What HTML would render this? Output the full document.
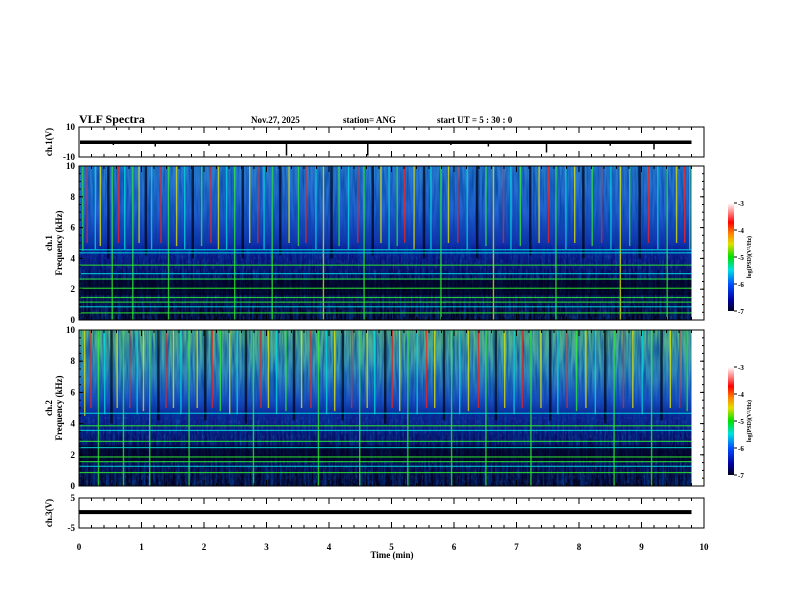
<!DOCTYPE html>
<html><head><meta charset="utf-8">
<style>
html,body{margin:0;padding:0;background:#fff;}
svg{display:block;font-family:"Liberation Serif",serif;font-weight:bold;}
</style></head>
<body>
<svg id="fig" width="792" height="612" viewBox="0 0 792 612" xmlns="http://www.w3.org/2000/svg">
<defs>
<linearGradient id="cbar" x1="0" y1="1" x2="0" y2="0">
<stop offset="0" stop-color="#000020"/><stop offset="0.1" stop-color="#0000a0"/>
<stop offset="0.25" stop-color="#0050ff"/><stop offset="0.38" stop-color="#00e0e0"/>
<stop offset="0.5" stop-color="#00e000"/><stop offset="0.62" stop-color="#e0e000"/>
<stop offset="0.72" stop-color="#ff8000"/><stop offset="0.82" stop-color="#ff0000"/>
<stop offset="0.92" stop-color="#ff9090"/><stop offset="1" stop-color="#ffffff"/>
</linearGradient>
<linearGradient id="bg1" x1="0" y1="0" x2="0" y2="1">
<stop offset="0" stop-color="#2a80d0"/><stop offset="0.3" stop-color="#2060d0"/>
<stop offset="0.5" stop-color="#1230b0"/><stop offset="0.55" stop-color="#0a1890"/>
<stop offset="0.7" stop-color="#040650"/><stop offset="1" stop-color="#010120"/>
</linearGradient>
<linearGradient id="bg2" x1="0" y1="0" x2="0" y2="1">
<stop offset="0" stop-color="#58b880"/><stop offset="0.25" stop-color="#3898b8"/>
<stop offset="0.45" stop-color="#1a50c8"/><stop offset="0.55" stop-color="#0c2090"/>
<stop offset="0.75" stop-color="#030650"/><stop offset="1" stop-color="#010120"/>
</linearGradient>
<filter id="noise" x="0" y="0" width="100%" height="100%">
<feTurbulence type="fractalNoise" baseFrequency="0.45 0.03" numOctaves="2" seed="3"/>
<feColorMatrix type="matrix" values="0 0 0 0 0  0 0 0 0 0.05  0 0 0 0 0.35  1.6 0 0 0 -0.55"/>
</filter>
<filter id="noise2" x="0" y="0" width="100%" height="100%">
<feTurbulence type="fractalNoise" baseFrequency="0.6 0.2" numOctaves="2" seed="7"/>
<feColorMatrix type="matrix" values="0 0 0 0 0.1  0 0 0 0 0.3  0 0 0 0 1  0 1.8 0 0 -0.9"/>
</filter>
</defs>
<g id="root"></g>
</svg>
<script>
// ---- data ----
const timeTicks = [0,1,2,3,4,5,6,7,8,9,10];
const freqTicks = [0,2,4,6,8,10];
const cbarTicks = [-3,-4,-5,-6,-7];
const bands1 = [4.6,4.4,3.6,3.05,2.7,2.1,1.5,1.2,0.9,0.5];
const bandCol1 = [0,0,1,0,1,1,1,1,0,1];
const bands2 = [4.7,3.9,3.6,2.9,2.5,1.9,1.6,1.3,0.9];
const bandCol2 = [0,1,0,1,0,1,1,0,1];
const str1T = [0.05,0.12,0.25,0.33,0.45,0.52,0.62,0.72,0.85,0.95,1.05,1.15,1.3,1.42,1.55,1.68,1.8,1.95,2.1,2.22,2.35,2.48,2.6,2.72,2.85,2.95,3.08,3.2,3.35,3.5,3.62,3.78,3.9,4.02,4.15,4.3,4.45,4.55,4.68,4.82,4.95,5.08,5.2,5.35,5.5,5.62,5.78,5.9,6.05,6.2,6.35,6.5,6.62,6.78,6.9,7.05,7.2,7.35,7.5,7.62,7.78,7.92,8.05,8.2,8.35,8.5,8.65,8.8,8.95,9.1,9.25,9.4,9.55,9.68,9.76];
const str1C = [1,3,0,2,4,1,3,0,1,2,4,0,3,1,2,0,4,1,3,2,0,1,4,2,3,0,1,4,2,1,3,0,2,4,1,0,3,1,4,2,0,1,3,2,4,0,1,2,3,0,4,1,2,3,0,1,4,2,3,1,0,2,4,1,3,0,2,1,4,3,0,1,2,3,1];
const str1L = [4.5,5,4.6,4.8,4,0,5,4.6,0,5,4.2,4.6,5,0,4.8,4.6,4,4.8,5,4.6,4.6,0,4,5,5,4.6,0,4.2,5,4.8,5,4.6,0,4,4.8,4.6,5,0,4.2,5,4.6,4.8,5,4.6,4,4.6,0,5,5,4.6,4,4.8,0,5,4.6,4.8,4.2,5,5,0,4.6,5,4,4.8,5,4.6,0,4.8,4,5,4.6,0,5,5,4.6];
const str2T = [0.08,0.18,0.3,0.4,0.5,0.6,0.7,0.8,0.92,1.02,1.12,1.25,1.38,1.5,1.62,1.75,1.88,2.0,2.12,2.25,2.4,2.52,2.65,2.78,2.9,3.02,3.15,3.3,3.42,3.55,3.7,3.82,3.95,4.08,4.2,4.35,4.48,4.6,4.72,4.88,5.0,5.12,5.25,5.4,5.55,5.68,5.82,5.95,6.08,6.22,6.38,6.5,6.65,6.8,6.95,7.08,7.22,7.38,7.52,7.65,7.8,7.95,8.1,8.25,8.4,8.55,8.7,8.85,9.0,9.15,9.3,9.45,9.6,9.72];
const str2C = [2,3,1,0,4,2,1,3,0,2,1,4,3,2,0,1,2,4,3,1,2,0,4,1,3,2,0,1,4,2,3,1,0,2,4,3,1,2,0,4,3,2,1,0,3,2,4,1,0,2,3,1,4,2,0,3,1,2,4,0,3,1,2,0,4,1,3,2,0,1,4,2,3,1];
const str2L = [4.5,5,0,4.6,4,5,0,5,4.6,4.8,0,4.2,5,5,4.6,0,5,4.2,5,4.8,4.6,4.6,4,0,5,5,4.6,4.8,4.2,5,5,0,4.6,4.8,4.2,5,0,5,4.6,4,5,4.8,0,4.6,5,5,4.2,0,4.6,4.8,5,0,4.2,5,4.6,5,0,5,4.2,4.6,5,4.8,5,4.6,4,0,5,5,4.6,0,4.2,5,5,4.8];
const ch1Base = 0;
const spikeT = [0.55,1.22,2.08,3.32,4.62,5.95,6.55,7.48,8.5,9.2];
const spikeV = [-2,-3,-2.5,-9,-9,-2,-3,-7,-2.5,-5];
const ch3Level = 0.3;
const colors = ['#00e0e0','#30f030','#e8e800','#ff2010','#000010'];

// ---- layout ----
const X0=79,X1=704;
const P = {
 ch1:{t:127,b:157,lo:-10,hi:10},
 s1:{t:166,b:320,lo:0,hi:10},
 s2:{t:330,b:486,lo:0,hi:10},
 ch3:{t:498,b:528,lo:-5,hi:5}
};
const xs=t=>X0+(t/10)*(X1-X0);
const ys=(p,v)=>P[p].b-(v-P[p].lo)/(P[p].hi-P[p].lo)*(P[p].b-P[p].t);
const NS='http://www.w3.org/2000/svg';
const root=document.getElementById('root');
function mk(tag,attrs,parent,txt){const e=document.createElementNS(NS,tag);for(const k in attrs)e.setAttribute(k,attrs[k]);if(txt!==undefined)e.textContent=txt;(parent||root).appendChild(e);return e;}

const hdr=[["VLF Spectra",79,123,12,'chart-title'],["Nov.27, 2025",251,123,9,'date-label'],["station= ANG",343,123,9,'station-label'],["start  UT =   5  : 30 : 0",437,123,9,'start-time-label']];
hdr.forEach(h=>{const e=mk('text',{x:h[1],y:h[2],'font-size':h[3],'xml:space':'preserve'},root,h[0]);

});

function spectro(p,bg,bands,bcol,T,C,L,name){
 const g=mk('g',{});
 
 
 const top=P[p].t,bot=P[p].b;
 const dataEnd=xs(9.8);
 mk('rect',{x:X0,y:top,width:dataEnd-X0,height:bot-top,fill:'url(#'+bg+')'},g);
 mk('rect',{x:X0,y:top,width:dataEnd-X0,height:bot-top,filter:'url(#noise)'},g);
 mk('rect',{x:X0,y:ys(p,4.4),width:dataEnd-X0,height:bot-ys(p,4.4),filter:'url(#noise2)',opacity:0.35},g);
 mk('rect',{x:X0,y:ys(p,2.6),width:dataEnd-X0,height:ys(p,1.6)-ys(p,2.6),fill:'#000010',opacity:0.6},g);
 for(let i=0;i<T.length;i++){
  const x=xs(T[i]);const yl=ys(p,L[i]);
  const r=mk('rect',{x:x,y:top,width:C[i]==4?2.5:1.4,height:yl-top,fill:colors[C[i]],opacity:C[i]==4?0.7:0.75},g);
  
  
 }
 for(let i=0;i<bands.length;i++){
  const y=ys(p,bands[i]);
  const r=mk('rect',{x:X0,y:y,width:dataEnd-X0,height:1.2,fill:colors[bcol[i]],opacity:0.8},g);
  
  
 }
 mk('rect',{x:dataEnd,y:top,width:X1-dataEnd,height:bot-top,fill:'#fff'},g);
}
spectro('s1','bg1',bands1,bandCol1,str1T,str1C,str1L,'spectrogram-ch1');
spectro('s2','bg2',bands2,bandCol2,str2T,str2C,str2L,'spectrogram-ch2');

{
 const y0=ys('ch1',ch1Base);
 const w=mk('rect',{x:X0+1,y:y0-1.5,width:xs(9.8)-X0-1,height:3.5,fill:'#000'});
 
 
 for(let i=0;i<spikeT.length;i++){
  const s=mk('line',{x1:xs(spikeT[i]),x2:xs(spikeT[i]),y1:y0,y2:ys('ch1',spikeV[i]),stroke:'#000','stroke-width':1.5});
  
  
 }
 const l3=mk('rect',{x:X0,y:ys('ch3',ch3Level)-2,width:xs(9.8)-X0,height:4,fill:'#000'});
 
 
}

function frame(p,name,yt){
 const top=P[p].t,bot=P[p].b;
 const f=mk('rect',{x:X0,y:top,width:X1-X0,height:bot-top,fill:'none',stroke:'#000','stroke-width':1});
 
 
 for(let t=0;t<=100;t+=2){const x=xs(t/10);const L=(t%10==0)?6:3;
  mk('line',{x1:x,x2:x,y1:top,y2:top+L,stroke:'#000'});mk('line',{x1:x,x2:x,y1:bot,y2:bot-L,stroke:'#000'});}
 yt.forEach(v=>{const y=ys(p,v);mk('line',{x1:X0,x2:X0+4,y1:y,y2:y,stroke:'#000'});mk('line',{x1:X1,x2:X1-4,y1:y,y2:y,stroke:'#000'});
  const tl=mk('text',{x:X0-4,y:y+3,'font-size':9,'text-anchor':'end'},root,String(v));
  
  });
}
frame('ch1','ch1',[10,-10]);
frame('s1','spectrogram-ch1',freqTicks);
frame('s2','spectrogram-ch2',freqTicks);
frame('ch3','ch3',[5,-5]);
['s1','s2'].forEach(p=>{for(let v=0;v<=10;v+=0.5){const y=ys(p,v);mk('line',{x1:X0,x2:X0+2,y1:y,y2:y,stroke:'#000'});mk('line',{x1:X1,x2:X1-2,y1:y,y2:y,stroke:'#000'});}});

timeTicks.forEach(t=>{const e=mk('text',{x:xs(t),y:550,'font-size':9,'text-anchor':'middle'},root,String(t));
 
 });
const xt=mk('text',{x:392,y:558,'font-size':9,'text-anchor':'middle'},root,'Time (min)');



function ytitle(txt,x,y,name){const e=mk('text',{x:x,y:y,'font-size':9,'text-anchor':'middle',transform:`rotate(-90 ${x} ${y})`},root,txt);
 
 }
ytitle('ch.1(V)',52,142,'ch1-y-axis-title');
ytitle('ch.1',52,243,'spectrogram-ch1-channel-title');
ytitle('Frequency (kHz)',62,243,'spectrogram-ch1-y-axis-title');
ytitle('ch.2',52,408,'spectrogram-ch2-channel-title');
ytitle('Frequency (kHz)',62,408,'spectrogram-ch2-y-axis-title');
ytitle('ch.3(V)',52,513,'ch3-y-axis-title');

function cbar(top,name){
 const bot=top+108;
 const r=mk('rect',{x:728,y:top,width:6,height:bot-top,fill:'url(#cbar)'});
 
 
 cbarTicks.forEach((v,i)=>{const y=top+i*(bot-top)/(cbarTicks.length-1);
  mk('line',{x1:734,x2:737,y1:y,y2:y,stroke:'#000'});
  const t=mk('text',{x:738,y:y+3,'font-size':7},root,String(v));
  
  });
 const x=751,y=(top+bot)/2;
 const t=mk('text',{x:x,y:y,'font-size':6,'text-anchor':'middle',transform:`rotate(-90 ${x} ${y})`},root,'log(PSD)(V²/Hz)');
 
 
}
cbar(203,'colorbar-ch1');
cbar(367,'colorbar-ch2');
</script>
</body></html>
